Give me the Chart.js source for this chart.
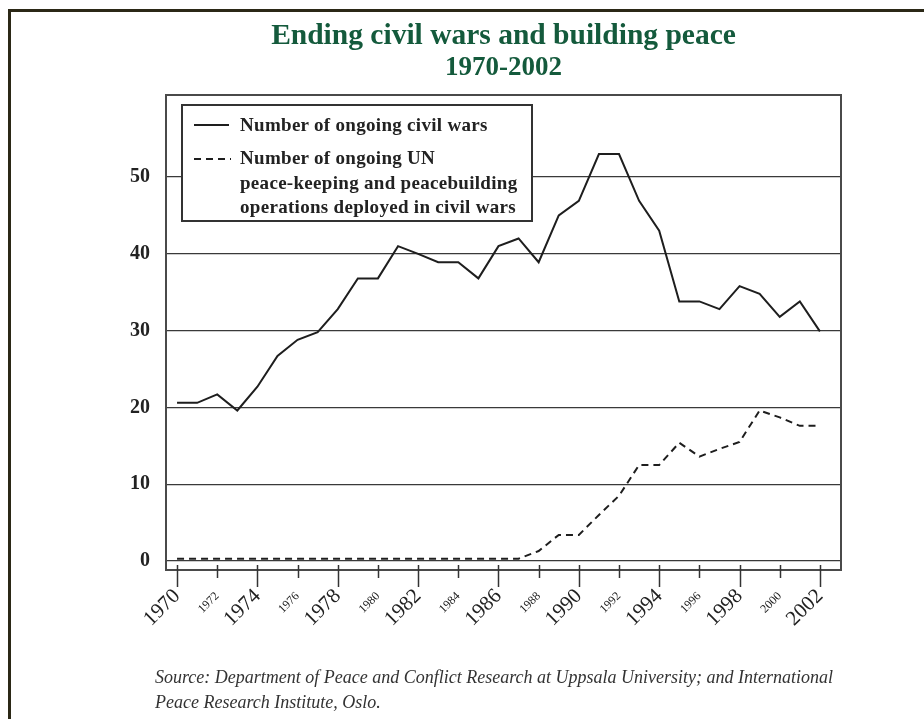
<!DOCTYPE html>
<html>
<head>
<meta charset="utf-8">
<script src="https://cdn.jsdelivr.net/npm/chart.js@4.4.1/dist/chart.umd.min.js"></script>
<style>
  html, body { margin: 0; padding: 0; background: #fff; }
  #wrap { position: relative; width: 924px; height: 719px; overflow: hidden; background: #fff; }
  #frame { position: absolute; left: 8px; top: 9px; width: 920px; height: 720px;
           border-top: 3px solid #2b2816; border-left: 3px solid #2b2816; box-sizing: border-box; }
  canvas { position: absolute; left: 0; top: 0; }
  .title { position: absolute; left: 166px; width: 675px; text-align: center; color: #145a3c;
           font-family: "Liberation Serif", "DejaVu Serif", serif; font-weight: bold; white-space: nowrap; }
  #legend { position: absolute; left: 181px; top: 104px; width: 352px; height: 118px; box-sizing: border-box;
            border: 2px solid #333; background: #fff; font-family: "Liberation Serif", serif;
            font-weight: bold; font-size: 19px; letter-spacing: 0.3px; color: #222; }
  #legend .t { position: absolute; left: 57px; white-space: nowrap; line-height: 22px; }
  #legend svg { position: absolute; left: 10px; }
  .src { position: absolute; left: 155px; font-family: "Liberation Serif", serif; font-style: italic;
         font-size: 18px; color: #333; white-space: nowrap; line-height: 25px; }
</style>
</head>
<body>
<div id="wrap">
  <canvas id="c" width="924" height="719"></canvas>
  <div id="frame"></div>
  <div class="title" style="top:19px;font-size:29.5px;line-height:31px;">Ending civil wars and building peace</div>
  <div class="title" style="top:52px;font-size:27px;line-height:28px;">1970-2002</div>
  <div id="legend">
    <svg width="40" height="10" style="top:14px"><line x1="1" y1="5" x2="36" y2="5" stroke="#1e1e1e" stroke-width="2"/></svg>
    <div class="t" style="top:8px">Number of ongoing civil wars</div>
    <svg width="40" height="10" style="top:48px"><line x1="1" y1="5" x2="38" y2="5" stroke="#1e1e1e" stroke-width="2" stroke-dasharray="7,5"/></svg>
    <div class="t" style="top:41px">Number of ongoing UN</div>
    <div class="t" style="top:66px">peace-keeping and peacebuilding</div>
    <div class="t" style="top:90px">operations deployed in civil wars</div>
  </div>
  <div class="src" style="top:665px">Source: Department of Peace and Conflict Research at Uppsala University; and International</div>
  <div class="src" style="top:690px">Peace Research Institute, Oslo.</div>
</div>
<script>
const years = [1970,1971,1972,1973,1974,1975,1976,1977,1978,1979,1980,1981,1982,1983,1984,1985,1986,
               1987,1988,1989,1990,1991,1992,1993,1994,1995,1996,1997,1998,1999,2000,2001,2002];
const civilWars = [20.6,20.6,21.7,19.6,22.7,26.7,28.8,29.8,32.8,36.8,36.8,41.0,40.0,38.9,38.9,36.8,41.0,
                   42.0,38.9,45.0,46.9,53.0,53.0,46.9,43.0,33.8,33.8,32.8,35.8,34.8,31.8,33.8,29.9];
const unOperations = [0.3,0.3,0.3,0.3,0.3,0.3,0.3,0.3,0.3,0.3,0.3,0.3,0.3,0.3,0.3,0.3,0.3,
                      0.3,1.3,3.4,3.4,6.0,8.5,12.5,12.5,15.4,13.6,14.6,15.5,19.6,18.7,17.6,17.6];
const xTickYears = [1970,1972,1974,1976,1978,1980,1982,1984,1986,1988,1990,1992,1994,1996,1998,2000,2002];
const majorTickYears = [1970,1974,1978,1982,1986,1990,1994,1998,2002];
const yTickValues = [0,10,20,30,40,50];

const isMajor = v => majorTickYears.includes(v);

const framePlugin = {
  id: 'frameAndTicks',
  afterDraw(chart) {
    const {ctx, chartArea: a} = chart;
    const xs = chart.scales.x;
    ctx.save();
    ctx.strokeStyle = '#4a4a4a';
    ctx.lineWidth = 2;
    ctx.strokeRect(a.left, a.top, a.right - a.left, a.bottom - a.top);
    ctx.strokeStyle = '#333';
    ctx.lineWidth = 1.5;
    xTickYears.forEach(v => {
      const px = Math.round(xs.getPixelForValue(v)) + 0.5;
      ctx.beginPath();
      ctx.moveTo(px, a.bottom - 5);
      ctx.lineTo(px, a.bottom + (isMajor(v) ? 17 : 8));
      ctx.stroke();
    });
    ctx.restore();
  }
};

new Chart(document.getElementById('c'), {
  type: 'line',
  data: {
    datasets: [
      { label: 'Number of ongoing civil wars',
        data: years.map((y, i) => ({x: y, y: civilWars[i]})),
        borderColor: '#1e1e1e', borderWidth: 2, pointRadius: 0, tension: 0, fill: false },
      { label: 'Number of ongoing UN peace-keeping and peacebuilding operations deployed in civil wars',
        data: years.map((y, i) => ({x: y, y: unOperations[i]})),
        borderColor: '#1e1e1e', borderWidth: 2, borderDash: [7, 5], pointRadius: 0, tension: 0, fill: false }
    ]
  },
  options: {
    responsive: false,
    animation: false,
    devicePixelRatio: 1,
    layout: { padding: { top: 95, right: 83, bottom: 0, left: 0 } },
    plugins: { legend: { display: false }, title: { display: false }, tooltip: { enabled: false } },
    scales: {
      x: {
        type: 'linear', min: 1969.45, max: 2003.05,
        afterBuildTicks: s => { s.ticks = xTickYears.map(v => ({value: v})); },
        afterFit: s => { s.height = 149; },
        grid: { display: false, drawTicks: false },
        border: { display: false },
        ticks: {
          autoSkip: false, minRotation: 45, maxRotation: 45, padding: 14, color: '#222',
          callback: v => String(v),
          font: ctx => isMajor(ctx.tick && ctx.tick.value)
            ? { family: '"Liberation Serif", serif', size: 21, lineHeight: 1.2 }
            : { family: '"Liberation Serif", serif', size: 12, lineHeight: 2.4 }
        }
      },
      y: {
        min: -1.17, max: 60.68,
        afterBuildTicks: s => { s.ticks = yTickValues.map(v => ({value: v})); },
        afterFit: s => { s.width = 166; },
        grid: { color: '#3a3a3a', lineWidth: 1.3, drawTicks: false },
        border: { display: false },
        ticks: { padding: 16, color: '#222', font: { family: '"Liberation Serif", serif', size: 20, weight: 'bold' } }
      }
    }
  },
  plugins: [framePlugin]
});
</script>
</body>
</html>
